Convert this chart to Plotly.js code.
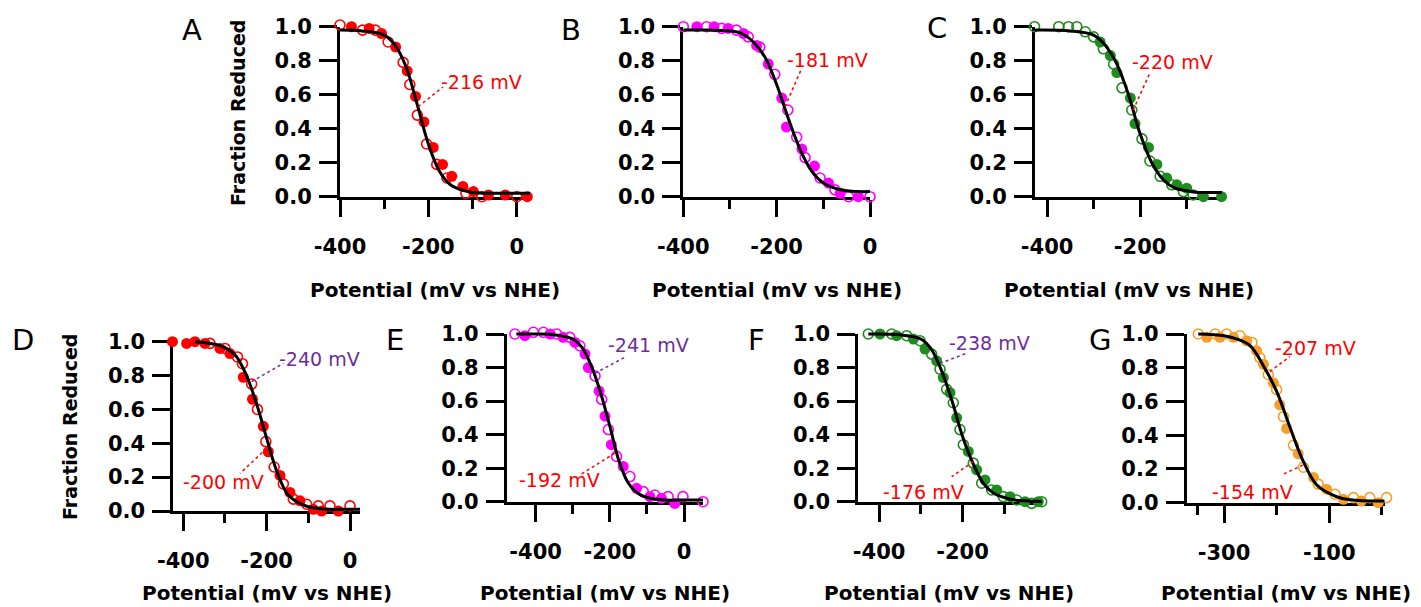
<!DOCTYPE html>
<html><head><meta charset="utf-8">
<script src="https://cdn.plot.ly/plotly-3.0.1.min.js"></script>
<style>html,body{margin:0;padding:0;background:#fff}#chart{width:1421px;height:607px}</style>
</head><body><div id="chart"></div>
<script>
// ---------- data ----------
// Panel A
const A_fillX=[-374,-334,-306,-274,-248,-229,-210,-189,-168,-147,-122,-98,-64,-26,24];
const A_fillY=[1.0,0.99,0.96,0.88,0.74,0.59,0.44,0.29,0.19,0.12,0.06,0.03,0.01,0.01,0.0];
const A_openX=[-400,-349,-320,-291,-257,-242,-225,-204,-181,-158,-115,-79,0];
const A_openY=[1.01,0.98,0.98,0.91,0.79,0.66,0.48,0.31,0.19,0.11,0.02,0.0,0.0];
const A_fitX=[-400,-350,-300,-275,-250,-225,-200,-175,-150,-125,-100,-50,0,30];
const A_fitY=[0.98,0.975,0.95,0.89,0.76,0.54,0.31,0.15,0.07,0.04,0.025,0.02,0.02,0.02];
// Panel B
const B_fillX=[-371,-334,-304,-271,-243,-218,-189,-179,-146,-119,-89,-64,-25];
const B_fillY=[1.0,1.0,0.99,0.96,0.89,0.78,0.58,0.41,0.28,0.18,0.08,0.02,0.0];
const B_openX=[-400,-350,-318,-286,-261,-236,-204,-176,-157,-139,-107,-75,-46,0];
const B_openY=[1.0,1.0,0.99,0.98,0.94,0.88,0.72,0.51,0.35,0.23,0.11,0.04,0.0,0.0];
const B_fitX=[-400,-350,-300,-275,-250,-225,-200,-175,-150,-125,-100,-75,-50,-25,0];
const B_fitY=[0.98,0.98,0.975,0.96,0.91,0.82,0.66,0.46,0.28,0.15,0.08,0.05,0.035,0.03,0.03];
// Panel C
const C_fillX=[-286,-264,-250,-221,-211,-182,-164,-143,-121,-100,-64,-25];
const C_fillY=[0.91,0.83,0.73,0.58,0.43,0.29,0.19,0.11,0.07,0.05,0.0,0.0];
const C_openX=[-427,-375,-354,-336,-318,-300,-279,-257,-239,-218,-196,-179,-157,-132,-107,-86];
const C_openY=[1.0,1.0,1.0,1.0,0.97,0.94,0.87,0.78,0.64,0.51,0.34,0.21,0.12,0.07,0.03,0.01];
const C_fitX=[-426,-350,-300,-275,-250,-225,-200,-175,-150,-125,-100,-75,-50,-24];
const C_fitY=[0.98,0.975,0.95,0.89,0.78,0.60,0.37,0.20,0.10,0.05,0.035,0.025,0.025,0.025];
// Panel D
const D_fillX=[-426,-392,-372,-348,-312,-288,-256,-234,-208,-196,-168,-144,-120,-88,-68,-28];
const D_fillY=[1.0,0.99,1.0,0.99,0.96,0.93,0.79,0.66,0.50,0.35,0.21,0.11,0.06,0.01,0.0,0.0];
const D_openX=[-336,-300,-270,-258,-236,-222,-202,-182,-160,-136,-104,-76,-48,0];
const D_openY=[0.99,0.96,0.91,0.87,0.75,0.60,0.41,0.26,0.16,0.07,0.04,0.03,0.03,0.03];
const D_fitX=[-372,-350,-325,-300,-275,-250,-225,-200,-175,-150,-125,-100,-75,-50,0,24];
const D_fitY=[1.0,0.995,0.985,0.965,0.92,0.81,0.64,0.43,0.23,0.10,0.05,0.025,0.015,0.01,0.01,0.01];
// Panel E
const E_fillX=[-429,-361,-326,-294,-267,-258,-229,-213,-196,-164,-128,-92,-61,-25];
const E_fillY=[0.99,1.0,0.98,0.95,0.88,0.80,0.66,0.51,0.34,0.21,0.08,0.03,0.02,-0.01];
const E_openX=[-456,-406,-379,-343,-308,-281,-240,-222,-204,-182,-146,-110,-79,-43,-3,51];
const E_openY=[1.0,1.01,1.01,1.0,0.98,0.93,0.75,0.61,0.43,0.27,0.15,0.06,0.04,0.03,0.03,0.0];
const E_fitX=[-452,-400,-350,-300,-275,-250,-225,-200,-175,-150,-125,-100,-50,0,51];
const E_fitY=[1.0,1.0,0.995,0.97,0.92,0.81,0.65,0.45,0.24,0.11,0.05,0.025,0.01,0.01,0.01];
// Panel F
const F_fillX=[-398,-358,-318,-290,-262,-246,-230,-214,-186,-166,-146,-118,-86,-50,-18];
const F_fillY=[1.0,0.99,0.97,0.91,0.84,0.74,0.65,0.50,0.30,0.19,0.13,0.07,0.03,0.0,0.0];
const F_openX=[-426,-370,-334,-302,-274,-254,-238,-222,-206,-198,-174,-154,-130,-102,-70,-34,-10];
const F_openY=[1.0,1.0,0.99,0.96,0.88,0.79,0.67,0.59,0.43,0.34,0.23,0.11,0.07,0.03,0.01,-0.01,0.0];
const F_fitX=[-426,-350,-300,-275,-250,-225,-200,-175,-150,-125,-100,-75,-50,-10];
const F_fitY=[1.0,0.995,0.97,0.91,0.78,0.60,0.39,0.23,0.11,0.05,0.025,0.01,0.005,0.0];
// Panel G
const G_fillX=[-333,-308,-282,-257,-238,-225,-206,-194,-181,-159,-130,-105,-73,-39,-7];
const G_fillY=[0.98,0.98,0.98,0.96,0.90,0.82,0.71,0.58,0.44,0.29,0.15,0.08,0.02,0.01,0.0];
const G_openX=[-349,-317,-295,-270,-247,-232,-216,-200,-187,-168,-149,-121,-89,-54,-23,9];
const G_openY=[1.0,1.0,1.0,0.99,0.95,0.86,0.76,0.67,0.51,0.34,0.21,0.11,0.05,0.03,0.03,0.03];
const G_fitX=[-349,-300,-275,-250,-225,-200,-175,-150,-125,-100,-75,-50,-25,5];
const G_fitY=[1.0,0.99,0.97,0.93,0.81,0.66,0.45,0.25,0.11,0.055,0.025,0.015,0.01,0.01];

const panelLetters=['A','B','C','D','E','F','G'];
const yTickVals=[0,0.2,0.4,0.6,0.8,1.0];
const xTitle='Potential (mV vs NHE)';
const yTitle='Fraction Reduced';
// midpoint labels: text, colour, anchor on curve (mV, fraction), leader end, text centre
const A_labels=[['-216 mV','red',-223,0.53,-167,0.645,-79,0.675]];
const B_labels=[['-181 mV','red',-182,0.53,-146,0.757,-92,0.804]];
const C_labels=[['-220 mV','red',-215,0.51,-179,0.728,-131,0.792]];
const D_labels=[['-240 mV','purple',-236,0.764,-160,0.872,-72,0.90],['-200 mV','red',-200,0.37,-264,0.222,-304,0.173]];
const E_labels=[['-241 mV','purple',-240,0.766,-160,0.861,-97,0.934],['-192 mV','red',-187,0.289,-281,0.159,-335,0.129]];
const F_labels=[['-238 mV','purple',-254,0.825,-190,0.885,-134,0.948],['-176 mV','red',-174,0.239,-226,0.149,-294,0.06]];
const G_labels=[['-207 mV','red',-213,0.777,-175,0.866,-127,0.915],['-154 mV','red',-150,0.223,-191,0.164,-245,0.065]];

// ---------- styling / layout ----------
const W=1421,H=607;
const COL={red:'#ff0000',magenta:'#ff00ff',green:'#1f8c1f',orange:'#f59f2a',purple:'#6a2ea0'};
const FONT='DejaVu Sans';
const panels=[
 {fx:A_fillX,fy:A_fillY,ox:A_openX,oy:A_openY,cx:A_fitX,cy:A_fitY,lab:A_labels,col:COL.red,
  box:[340,530,26.7,196.7],range:[-400,30],major:[-400,-200,0],minor:[-300,-100],letter:[192,30],ytitle:[238,113]},
 {fx:B_fillX,fy:B_fillY,ox:B_openX,oy:B_openY,cx:B_fitX,cy:B_fitY,lab:B_labels,col:COL.magenta,
  box:[683.3,870,26.7,196.7],range:[-400,0],major:[-400,-200,0],minor:[-300,-100],letter:[571,30]},
 {fx:C_fillX,fy:C_fillY,ox:C_openX,oy:C_openY,cx:C_fitX,cy:C_fitY,lab:C_labels,col:COL.green,
  box:[1035,1222,26.7,196.7],range:[-426,-24],major:[-400,-200],minor:[-300,-100],letter:[937,28]},
 {fx:D_fillX,fy:D_fillY,ox:D_openX,oy:D_openY,cx:D_fitX,cy:D_fitY,lab:D_labels,col:COL.red,
  box:[173.3,360,341.7,511],range:[-424,24],major:[-400,-200,0],minor:[-300,-100],letter:[23,340],ytitle:[70,427]},
 {fx:E_fillX,fy:E_fillY,ox:E_openX,oy:E_openY,cx:E_fitX,cy:E_fitY,lab:E_labels,col:COL.magenta,
  box:[506.7,703,334,501.7],range:[-478,51],major:[-400,-200,0],minor:[-300,-100],letter:[395,340]},
 {fx:F_fillX,fy:F_fillY,ox:F_openX,oy:F_openY,cx:F_fitX,cy:F_fitY,lab:F_labels,col:COL.green,
  box:[858.3,1040,334,501.7],range:[-450,-14],major:[-400,-200],minor:[-300,-100],letter:[757,340]},
 {fx:G_fillX,fy:G_fillY,ox:G_openX,oy:G_openY,cx:G_fitX,cy:G_fitY,lab:G_labels,col:COL.orange,
  box:[1186.7,1385,334,502.7],range:[-371,6],major:[-300,-100],minor:[-350,-200,0],letter:[1100,340]}
];

const traces=[],annotations=[],shapes=[];
const layout={width:W,height:H,margin:{l:0,r:0,t:0,b:0},showlegend:false,
  paper_bgcolor:'#fff',plot_bgcolor:'rgba(0,0,0,0)',font:{family:FONT,color:'#000'}};
const px=x=>x/W, py=y=>1-y/H;
const tickFont={family:FONT,size:21,color:'#000',weight:'bold'};
const PAD=14; // px of extra room so edge markers are not hidden

panels.forEach((p,i)=>{
  const n=i===0?'':String(i+1);
  const xa='x'+n, ya='y'+n;
  const m=String(i+8);            // hidden data axes with the same scale
  const dxa='x'+m, dya='y'+m;
  const [x0,x1,y0,y1]=p.box;
  const sx=(x1-x0)/(p.range[1]-p.range[0]);
  const sy=(y1-y0);
  traces.push({type:'scatter',mode:'markers',x:p.fx,y:p.fy,xaxis:dxa,yaxis:dya,cliponaxis:false,
    marker:{symbol:'circle',size:11,color:p.col,line:{width:0}}});
  traces.push({type:'scatter',mode:'markers',x:p.ox,y:p.oy,xaxis:dxa,yaxis:dya,cliponaxis:false,
    marker:{symbol:'circle-open',size:10,color:p.col,line:{width:1.6,color:p.col}}});
  traces.push({type:'scatter',mode:'lines',x:p.cx,y:p.cy,xaxis:dxa,yaxis:dya,cliponaxis:false,
    line:{color:'#000',width:3,shape:'spline',smoothing:1}});
  layout['xaxis'+m]={domain:[px(x0-PAD),px(x1+PAD)],anchor:dya,visible:false,fixedrange:true,
    range:[p.range[0]-PAD/sx,p.range[1]+PAD/sx]};
  layout['yaxis'+m]={domain:[py(y1+PAD),py(y0-PAD)],anchor:dxa,visible:false,fixedrange:true,
    range:[-PAD/sy,1+PAD/sy]};
  layout['xaxis'+n]={domain:[px(x0),px(x1)],anchor:ya,range:p.range,layer:'below traces',
    tickmode:'array',tickvals:p.major,ticktext:p.major.map(v=>String(v)),
    ticks:'outside',ticklen:17,tickwidth:3,tickcolor:'#000',
    showline:true,linewidth:3,linecolor:'#000',showgrid:false,zeroline:false,
    tickfont:tickFont,ticklabelstandoff:12,
    minor:{tickmode:'array',tickvals:p.minor,ticks:'outside',ticklen:9,tickwidth:3,tickcolor:'#000',showgrid:false},
    fixedrange:true};
  layout['yaxis'+n]={domain:[py(y1),py(y0)],anchor:xa,range:[0,1],layer:'below traces',
    tickmode:'array',tickvals:yTickVals,ticktext:yTickVals.map(v=>v.toFixed(1)),
    ticks:'outside',ticklen:18,tickwidth:3,tickcolor:'#000',
    showline:true,linewidth:3,linecolor:'#000',showgrid:false,zeroline:false,
    tickfont:tickFont,ticklabelstandoff:3,fixedrange:true};
  annotations.push({xref:'paper',yref:'paper',x:px(p.letter[0]),y:py(p.letter[1]),text:panelLetters[i],
    showarrow:false,xanchor:'center',yanchor:'middle',font:{family:FONT,size:29,color:'#000'}});
  const xt=(i<3)?290:593;
  annotations.push({xref:'paper',yref:'paper',x:px((x0+x1)/2),y:py(xt),text:xTitle,
    showarrow:false,xanchor:'center',yanchor:'middle',font:{family:FONT,size:20,color:'#000',weight:'bold'}});
  if(p.ytitle){
    annotations.push({xref:'paper',yref:'paper',x:px(p.ytitle[0]),y:py(p.ytitle[1]),text:yTitle,textangle:-90,
      showarrow:false,xanchor:'center',yanchor:'middle',font:{family:FONT,size:19,color:'#000',weight:'bold'}});
  }
  p.lab.forEach(l=>{
    const c=COL[l[1]];
    shapes.push({type:'line',xref:xa,yref:ya,x0:l[2],y0:l[3],x1:l[4],y1:l[5],
      line:{color:c,width:1.5,dash:'dot'}});
    annotations.push({xref:xa,yref:ya,x:l[6],y:l[7],text:l[0],showarrow:false,
      xanchor:'center',yanchor:'middle',font:{family:FONT,size:19,color:c}});
  });
});
layout.annotations=annotations;
layout.shapes=shapes;
Plotly.newPlot('chart',traces,layout,{displayModeBar:false,staticPlot:true});
</script></body></html>
